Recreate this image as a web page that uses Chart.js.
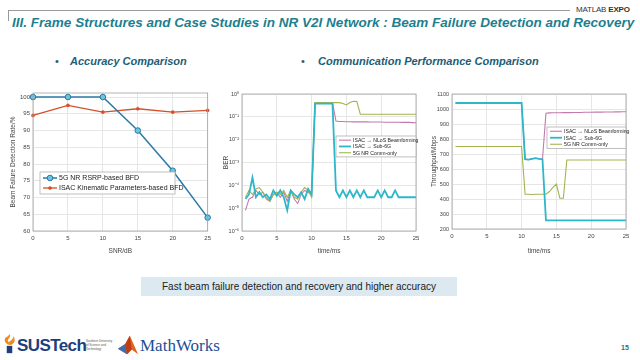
<!DOCTYPE html>
<html lang="en">
<head>
<meta charset="UTF-8">
<title>Beam Failure Detection and Recovery</title>
<script src="https://cdn.jsdelivr.net/npm/chart.js@4.4.1/dist/chart.umd.min.js"></script>
<style>
    html, body { margin: 0; padding: 0; background: #fff; }
    body { width: 640px; height: 360px; position: relative; overflow: hidden; font-family: "Liberation Sans", Arial, sans-serif; }
    .abs { position: absolute; }
    .hline { left: 8px; top: 10px; width: 562px; height: 1px; background: #9a9a9a; }
    .vline { left: 8px; top: 10px; width: 1px; height: 11px; background: #9a9a9a; }
    .expo { left: 576px; top: 5px; font-size: 8px; color: #333; letter-spacing: -0.2px; }
    .title { left: 12px; top: 15px; font-size: 13px; font-weight: bold; font-style: italic; color: #1d7f8f; white-space: nowrap; transform-origin: 0 0; }
    .bullet { top: 55px; font-size: 11px; font-weight: bold; font-style: italic; color: #1b5d78; white-space: nowrap; }
    .dot { top: 55px; font-size: 11px; color: #1b5d78; }
    .note { left: 141px; top: 277px; width: 316px; height: 19px; background: #dce9f1; font-size: 10px; color: #222; text-align: center; line-height: 19px; }
    .pg { left: 621px; top: 344px; font-size: 7px; font-weight: bold; color: #2a6f86; }
    canvas { position: absolute; }
</style>
</head>
<body>
    <div class="abs hline"></div>
    <div class="abs vline"></div>
    <div class="abs expo">MATLAB <b>EXPO</b></div>
    <div class="abs title" id="title">III. Frame Structures and Case Studies in NR V2I Network : Beam Failure Detection and Recovery</div>

    <div class="abs dot" style="left:55px">•</div>
    <div class="abs bullet" style="left:70px">Accuracy Comparison</div>
    <div class="abs dot" style="left:301px">•</div>
    <div class="abs bullet" style="left:318px">Communication Performance Comparison</div>

    <canvas id="accChart" width="215" height="170" style="left:0px;top:85px"></canvas>
    <canvas id="berChart" width="210" height="170" style="left:215px;top:85px"></canvas>
    <canvas id="tpChart" width="215" height="170" style="left:425px;top:85px"></canvas>

    <div class="abs note">Fast beam failure detection and recovery and higher accuracy</div>

    <!-- logos -->
    <svg class="abs" style="left:3px;top:333px" width="13" height="22" viewBox="0 0 14 24">
        <path d="M7 1 C10 5 3 6 6 10 C9 8 12 6 11 3 C14 7 13 12 8 13 C4 13 1 10 2 6 C3 4 6 4 7 1Z" fill="#f08a1c"/>
        <rect x="4" y="14" width="6" height="8" fill="#1e3f7a"/>
    </svg>
    <div class="abs" style="left:17px;top:336px;font-size:17px;font-weight:bold;color:#1e3f7a;letter-spacing:-0.6px">SUSTech</div>
    <div class="abs" style="left:86px;top:339px;font-size:3px;line-height:4px;color:#555">Southern University<br>of Science and<br>Technology</div>
    <svg class="abs" style="left:117px;top:334px" width="22" height="22" viewBox="0 0 24 24">
        <path d="M1 16 L9 11 L14 2 L23 22 L16 17 L11 22 Z" fill="#e0641b"/>
        <path d="M1 16 L9 11 L11 22 Z" fill="#3a6fb5"/>
        <path d="M9 11 L14 2 L16 17 L11 22Z" fill="#c23b12"/>
    </svg>
    <div class="abs" style="left:140px;top:336px;font-size:17px;font-family:'Liberation Serif','DejaVu Serif',serif;color:#1c4f95">MathWorks</div>
    <div class="abs pg">15</div>

<script>
    // ---- data ----
    const snr = [0, 5, 10, 15, 20, 25];
    const accRsrp = [100, 100, 100, 90, 78, 64];
    const accIsac = [94.5, 97.5, 95.5, 96.5, 95.5, 96];
    const accYTicks = [60, 65, 70, 75, 80, 85, 90, 95, 100];
    const snrTicks = [0, 5, 10, 15, 20, 25];

    const timeMs = [0.5, 1, 1.5, 2, 2.5, 3, 3.5, 4, 4.5, 5, 5.5, 6, 6.5, 7, 7.5, 8, 8.5, 9, 9.5, 10,
        10.5, 11, 11.5, 12, 12.5, 13, 13.5, 14, 14.5, 15, 15.5, 16, 16.5, 17, 17.5, 18, 18.5, 19, 19.5, 20,
        20.5, 21, 21.5, 22, 22.5, 23, 23.5, 24, 24.5, 25];
    const timeTicks = [0, 5, 10, 15, 20, 25];

    const berNlos = [8e-6, 2.5e-5, 3e-5, 6e-5, 4e-5, 5e-5, 2.5e-5, 2e-5, 4e-5, 5e-5, 3e-5, 5e-5, 2e-5, 6e-5, 2.5e-5, 1.6e-5, 4e-5, 6e-5, 5e-5, 4e-5,
        0.42, 0.42, 0.42, 0.42, 0.42, 0.42,
        0.065, 0.062, 0.062, 0.061, 0.061, 0.06, 0.06, 0.06, 0.06, 0.06, 0.059, 0.059, 0.059, 0.059, 0.058, 0.058, 0.058, 0.058, 0.058, 0.057, 0.057, 0.057, 0.056, 0.055];
    const berSub6 = [2.5e-5, 4e-5, 2.2e-4, 3e-5, 5e-5, 3e-5, 4e-5, 2.5e-5, 6e-5, 3.5e-5, 6e-5, 3e-5, 8e-6, 6e-5, 4e-5, 3e-5, 5e-5, 2.5e-5, 7e-5, 4e-5,
        0.38, 0.38, 0.38, 0.38, 0.38, 0.38,
        6e-5, 3e-5, 6e-5, 3e-5, 6e-5, 3e-5, 6e-5, 3e-5, 6e-5, 3e-5, 3e-5, 3e-5, 6e-5, 3e-5, 6e-5, 3e-5, 3e-5, 6e-5, 3e-5, 3e-5, 3e-5, 3e-5, 3e-5, 3e-5];
    const berComm = [3e-5, 6e-5, 4e-5, 7e-5, 8e-5, 5e-5, 3e-5, 2e-5, 4e-5, 5e-5, 4e-5, 6e-5, 3e-5, 6e-5, 3e-5, 2.5e-5, 5e-5, 8e-5, 6e-5, 3e-5,
        0.42, 0.42, 0.42, 0.42, 0.42, 0.42,
        0.42, 0.42, 0.38, 0.33, 0.42, 0.48, 0.47, 0.13, 0.13, 0.13, 0.13, 0.13, 0.13, 0.13, 0.13, 0.13, 0.13, 0.13, 0.13, 0.13, 0.13, 0.13, 0.13, 0.13];
    const berTicks = [1e-6, 1e-5, 1e-4, 1e-3, 1e-2, 1e-1, 1];
    const berTickLabels = ['10⁻⁶', '10⁻⁵', '10⁻⁴', '10⁻³', '10⁻²', '10⁻¹', '10⁰'];

    const tpNlos = [1040, 1040, 1040, 1040, 1040, 1040, 1040, 1040, 1040, 1040, 1040, 1040, 1040, 1040, 1040, 1040, 1040, 1040, 1040, 1040,
        665, 662, 668, 672, 668, 665,
        972, 974, 975, 975, 975, 976, 976, 976, 977, 977, 977, 978, 978, 978, 979, 979, 979, 980, 980, 980, 981, 981, 982, 982];
    const tpSub6 = [1040, 1040, 1040, 1040, 1040, 1040, 1040, 1040, 1040, 1040, 1040, 1040, 1040, 1040, 1040, 1040, 1040, 1040, 1040, 1040,
        665, 662, 668, 672, 668, 665,
        258, 258, 258, 258, 258, 258, 258, 258, 258, 258, 258, 258, 258, 258, 258, 258, 258, 258, 258, 258, 258, 258, 258, 258];
    const tpComm = [750, 750, 750, 750, 750, 750, 750, 750, 750, 750, 750, 750, 750, 750, 750, 750, 750, 750, 750, 750,
        432, 432, 430, 432, 432, 432,
        432, 450, 478, 500, 405, 405, 660, 660, 660, 660, 660, 660, 660, 660, 660, 660, 660, 660, 660, 660, 660, 660, 660, 660];
    const tpTicks = [200, 300, 400, 500, 600, 700, 800, 900, 1000, 1100];

    // ---- colours ----
    const cBlue = '#2a7aa6', cRed = '#d5502a';
    const cPurple = '#c479ad', cCyan = '#2db7c9', cGreen = '#a3b450';

    Chart.defaults.font.family = "'Liberation Sans', Arial, sans-serif";
    Chart.defaults.color = '#444';
    Chart.defaults.animation = false;

    const pts = (xs, ys) => ys.map((v, i) => ({ x: xs[i], y: v }));

    // box around plot area, like MATLAB "box on"
    const frame = {
        id: 'frame',
        afterDatasetsDraw(chart) {
            const { ctx, chartArea: a } = chart;
            ctx.save();
            ctx.strokeStyle = '#a0a0a0';
            ctx.lineWidth = 0.8;
            ctx.strokeRect(a.left, a.top, a.right - a.left, a.bottom - a.top);
            ctx.restore();
        }
    };

    // legend drawn inside the axes
    const boxLegend = {
        id: 'boxLegend',
        afterDraw(chart, args, o) {
            const ctx = chart.ctx;
            const sets = chart.data.datasets;
            const h = o.rowH * sets.length + 2;
            ctx.save();
            ctx.fillStyle = '#fff';
            ctx.fillRect(o.x, o.y, o.w, h);
            ctx.strokeStyle = '#b0b0b0';
            ctx.lineWidth = 0.8;
            ctx.strokeRect(o.x, o.y, o.w, h);
            ctx.font = o.fontSize + "px 'Liberation Sans', Arial";
            ctx.textBaseline = 'middle';
            sets.forEach((ds, i) => {
                const cy = o.y + 1 + o.rowH * (i + 0.5);
                ctx.strokeStyle = ds.borderColor;
                ctx.lineWidth = ds.borderWidth;
                ctx.beginPath();
                ctx.moveTo(o.x + 3, cy);
                ctx.lineTo(o.x + 3 + o.lineLen, cy);
                ctx.stroke();
                if (ds.pointRadius > 0) {
                    ctx.beginPath();
                    ctx.arc(o.x + 3 + o.lineLen / 2, cy, ds.pointRadius, 0, Math.PI * 2);
                    ctx.fillStyle = ds.pointBackgroundColor;
                    ctx.fill();
                    ctx.lineWidth = ds.pointBorderWidth || 1;
                    ctx.strokeStyle = ds.pointBorderColor || ds.borderColor;
                    ctx.stroke();
                }
                ctx.fillStyle = '#222';
                ctx.fillText(ds.label, o.x + 5 + o.lineLen, cy + 0.5);
            });
            ctx.restore();
        }
    };

    function xScale(ticksArr, title, h) {
        return {
            type: 'linear', min: 0, max: 25,
            afterBuildTicks: s => { s.ticks = ticksArr.map(v => ({ value: v })); },
            afterFit: s => { s.height = h; },
            grid: { color: '#e6e6e6', drawTicks: false },
            border: { display: false },
            ticks: { font: { size: 6 }, padding: 4, maxRotation: 0 },
            title: { display: true, text: title, font: { size: 6.5 }, padding: { top: 1, bottom: 0 } }
        };
    }

    function yGrid() {
        return { color: '#e6e6e6', drawTicks: false };
    }

    // ---- accuracy chart ----
    new Chart(document.getElementById('accChart'), {
        type: 'line',
        data: {
            datasets: [
                { label: '5G NR RSRP-based BFD', data: pts(snr, accRsrp), borderColor: cBlue, borderWidth: 1.5, clip: 6,
                  pointRadius: 2.8, pointBackgroundColor: '#6fc3de', pointBorderColor: cBlue, pointBorderWidth: 1 },
                { label: 'ISAC Kinematic Parameters-based BFD', data: pts(snr, accIsac), borderColor: cRed, borderWidth: 1.3, clip: 6,
                  pointRadius: 1.6, pointBackgroundColor: cRed, pointBorderColor: cRed, pointBorderWidth: 0.5 }
            ]
        },
        options: {
            responsive: false,
            layout: { padding: { left: 8, top: 8, right: 7, bottom: 0 } },
            plugins: { legend: { display: false }, tooltip: { enabled: false },
                boxLegend: { x: 40, y: 87, w: 135, rowH: 10, lineLen: 14, fontSize: 7 } },
            scales: {
                x: xScale(snrTicks, 'SNR/dB', 24),
                y: {
                    min: 60, max: 101.2,
                    afterBuildTicks: s => { s.ticks = accYTicks.map(v => ({ value: v })); },
                    afterFit: s => { s.width = 25; },
                    grid: yGrid(), border: { display: false },
                    ticks: { font: { size: 6 }, padding: 3 },
                    title: { display: true, text: 'Beam Failure Detection Rate/%', font: { size: 6.5 }, padding: 1 }
                }
            }
        },
        plugins: [frame, boxLegend]
    });

    // ---- BER chart ----
    new Chart(document.getElementById('berChart'), {
        type: 'line',
        data: {
            datasets: [
                { label: 'ISAC → NLoS Beamforming', data: pts(timeMs, berNlos), borderColor: cPurple, borderWidth: 1.1, pointRadius: 0, order: 2 },
                { label: 'ISAC → Sub-6G', data: pts(timeMs, berSub6), borderColor: cCyan, borderWidth: 1.8, pointRadius: 0, order: 0 },
                { label: '5G NR Comm-only', data: pts(timeMs, berComm), borderColor: cGreen, borderWidth: 1.1, pointRadius: 0, order: 1 }
            ]
        },
        options: {
            responsive: false,
            layout: { padding: { left: 6, top: 9, right: 9, bottom: 0 } },
            plugins: { legend: { display: false }, tooltip: { enabled: false },
                boxLegend: { x: 121, y: 51, w: 80, rowH: 6.3, lineLen: 12, fontSize: 5.2 } },
            scales: {
                x: xScale(timeTicks, 'time/ms', 24),
                y: {
                    type: 'logarithmic', min: 1e-6, max: 1,
                    afterBuildTicks: s => { s.ticks = berTicks.map(v => ({ value: v })); },
                    afterFit: s => { s.width = 21; },
                    grid: yGrid(), border: { display: false },
                    ticks: { font: { size: 5.5 }, padding: 3, callback: (v, i) => berTickLabels[i] },
                    title: { display: true, text: 'BER', font: { size: 6.5 }, padding: 1 }
                }
            }
        },
        plugins: [frame, boxLegend]
    });

    // ---- throughput chart ----
    new Chart(document.getElementById('tpChart'), {
        type: 'line',
        data: {
            datasets: [
                { label: 'ISAC → NLoS Beamforming', data: pts(timeMs, tpNlos), borderColor: cPurple, borderWidth: 1.1, pointRadius: 0, order: 2 },
                { label: 'ISAC → Sub-6G', data: pts(timeMs, tpSub6), borderColor: cCyan, borderWidth: 1.8, pointRadius: 0, order: 0 },
                { label: '5G NR Comm-only', data: pts(timeMs, tpComm), borderColor: cGreen, borderWidth: 1.1, pointRadius: 0, order: 1 }
            ]
        },
        options: {
            responsive: false,
            layout: { padding: { left: 4, top: 9, right: 14, bottom: 0 } },
            plugins: { legend: { display: false }, tooltip: { enabled: false },
                boxLegend: { x: 122, y: 42, w: 79, rowH: 6.5, lineLen: 12, fontSize: 5.2 } },
            scales: {
                x: xScale(timeTicks, 'time/ms', 26),
                y: {
                    min: 200, max: 1100,
                    afterBuildTicks: s => { s.ticks = tpTicks.map(v => ({ value: v })); },
                    afterFit: s => { s.width = 23; },
                    grid: yGrid(), border: { display: false },
                    ticks: { font: { size: 5.5 }, padding: 3, callback: v => String(v) },
                    title: { display: true, text: 'Throughput/Mbps', font: { size: 6.5 }, padding: 1 }
                }
            }
        },
        plugins: [frame, boxLegend]
    });

    // squeeze title to slide width
    const t = document.getElementById('title');
    const w = t.scrollWidth;
    if (w > 0) t.style.transform = 'scaleX(' + (622 / w) + ')';
</script>
</body>
</html>
